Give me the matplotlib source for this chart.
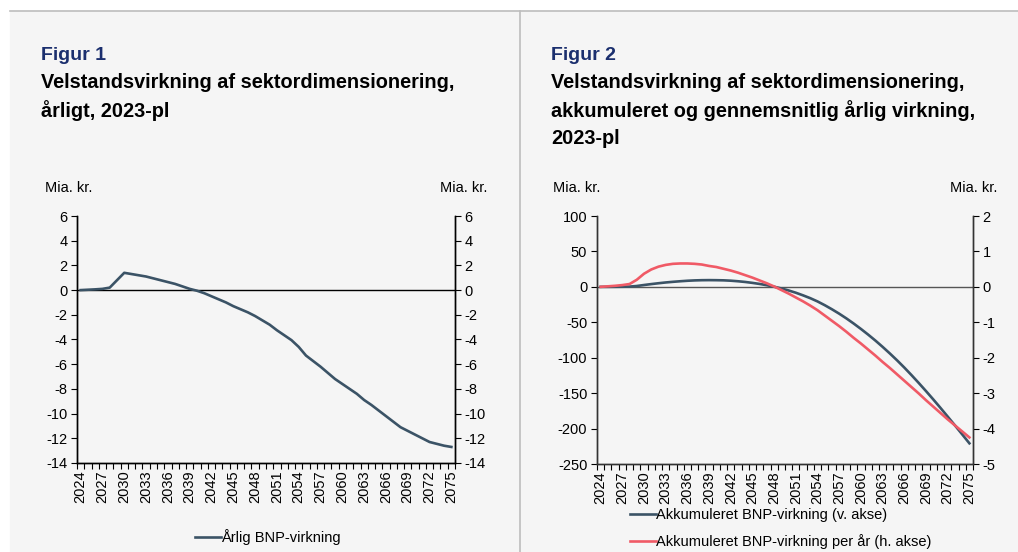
import numpy as np
import matplotlib
matplotlib.use('Agg')
import matplotlib.pyplot as plt
from matplotlib.patches import Rectangle
from matplotlib.lines import Line2D
from matplotlib.ticker import FixedLocator

plt.rcParams['font.family'] = ['Liberation Sans', 'DejaVu Sans']
plt.rcParams['axes.unicode_minus'] = False

# data
years = list(range(2024, 2076))
aarlig = [0.0, 0.03, 0.06, 0.1, 0.2, 0.8, 1.4, 1.3, 1.2, 1.1,
          0.95, 0.8, 0.65, 0.5, 0.3, 0.1, -0.05, -0.25, -0.5, -0.75,
          -1.0, -1.3, -1.55, -1.8, -2.1, -2.45, -2.8, -3.25, -3.65, -4.05,
          -4.6, -5.3, -5.75, -6.2, -6.7, -7.2, -7.6, -8.0, -8.4, -8.9,
          -9.3, -9.75, -10.2, -10.65, -11.1, -11.4, -11.7, -12.0, -12.3, -12.45,
          -12.6, -12.7]
akkum = [0.0, 0.03, 0.09, 0.19, 0.39, 1.2, 2.6, 3.9, 5.1, 6.2,
         7.1, 7.9, 8.6, 9.1, 9.4, 9.5, 9.4, 9.2, 8.7, 7.9,
         6.9, 5.6, 4.1, 2.3, 0.2, -2.3, -5.1, -8.3, -12.0, -16.0,
         -20.6, -25.9, -31.7, -37.9, -44.6, -51.8, -59.4, -67.4, -75.8, -84.7,
         -94.0, -103.7, -113.9, -124.6, -135.7, -147.1, -158.8, -170.8, -183.1, -195.5,
         -208.1, -220.8]
per_aar = [0.0, 0.015, 0.03, 0.05, 0.08, 0.2, 0.37, 0.49, 0.57, 0.62,
           0.65, 0.66, 0.66, 0.65, 0.63, 0.59, 0.56, 0.51, 0.46, 0.40,
           0.33, 0.26, 0.18, 0.10, 0.01, -0.09, -0.19, -0.30, -0.41, -0.53,
           -0.66, -0.81, -0.96, -1.11, -1.27, -1.44, -1.60, -1.77, -1.94, -2.12,
           -2.29, -2.47, -2.65, -2.83, -3.01, -3.20, -3.38, -3.56, -3.74, -3.91,
           -4.08, -4.25]
label_years = list(range(2024, 2076, 3))

navy = '#1b2f6e'
dark = '#3b5366'
red = '#f05a66'
bg = '#f5f5f5'
fs = 10.5

fig = plt.figure(figsize=(10.18, 5.52), dpi=100, facecolor='white')
W, H = 1018.0, 552.0

# panel backgrounds and separators
fig.patches.append(Rectangle((10 / W, 0), 1 - 10 / W, 1 - 11 / H,
                             transform=fig.transFigure, color=bg, zorder=-10))
fig.lines.append(Line2D([10 / W, 1], [1 - 11 / H, 1 - 11 / H],
                        transform=fig.transFigure, color='#bdbdbd', lw=1.2))
fig.lines.append(Line2D([520 / W, 520 / W], [0, 1 - 11 / H],
                        transform=fig.transFigure, color='#bdbdbd', lw=1.2))


def style_axes(ax, ax2, spine_col):
    for a in (ax, ax2):
        a.set_facecolor('none')
        a.spines['top'].set_visible(False)
        for s in ('left', 'right', 'bottom'):
            a.spines[s].set_color(spine_col)
            a.spines[s].set_linewidth(1.0)
    ax.set_xlim(2023.5, 2075.5)
    ax.set_xticks(label_years)
    ax.set_xticklabels([str(y) for y in label_years], rotation=90)
    ax.xaxis.set_minor_locator(FixedLocator(np.arange(2023.5, 2076, 1)))
    ax.tick_params(axis='x', which='major', length=0, pad=5, labelsize=fs)
    ax.tick_params(axis='x', which='minor', length=4, direction='out', width=0.8)
    ax.tick_params(axis='y', length=4, direction='out', labelsize=fs, pad=3, width=0.8)
    ax2.tick_params(axis='y', length=4, direction='out', labelsize=fs, pad=3, width=0.8)


def header(x, fig_no, lines):
    fig.text(x / W, 1 - 55 / H, fig_no, color=navy, fontsize=14, fontweight='bold',
             va='center', ha='left')
    for i, t in enumerate(lines):
        fig.text(x / W, 1 - (83 + 28 * i) / H, t, color='black', fontsize=14.3,
                 fontweight='bold', va='center', ha='left')


# Figur 1
ax1 = fig.add_axes([77 / W, 1 - 463 / H, (455 - 77) / W, (463 - 216) / H])
ax1b = ax1.twinx()
ax1.axhline(0, color='black', lw=1.0, zorder=1)
ax1.plot(years, aarlig, color=dark, lw=1.9, zorder=3)
ax1.set_ylim(-14, 6)
ax1.set_yticks(np.arange(-14, 7, 2))
ax1b.set_ylim(-14, 6)
ax1b.set_yticks(np.arange(-14, 7, 2))
style_axes(ax1, ax1b, 'black')
fig.legend([Line2D([], [], color=dark, lw=1.9)], ['Årlig BNP-virkning'],
           loc='center left', bbox_to_anchor=(195 / W, 1 - 537 / H),
           frameon=False, fontsize=fs, handlelength=1.75, handletextpad=0.05,
           borderaxespad=0, borderpad=0)
header(41, 'Figur 1', ['Velstandsvirkning af sektordimensionering,',
                       'årligt, 2023-pl'])
fig.text(45 / W, 1 - 188 / H, 'Mia. kr.', fontsize=fs, va='center', ha='left')
fig.text(487 / W, 1 - 188 / H, 'Mia. kr.', fontsize=fs, va='center', ha='right')

# Figur 2
ax2 = fig.add_axes([597 / W, 1 - 464 / H, (973 - 597) / W, (464 - 216) / H])
ax2b = ax2.twinx()
ax2.axhline(0, color='#555555', lw=1.0, zorder=1)
l1, = ax2.plot(years, akkum, color=dark, lw=1.9, zorder=3)
l2, = ax2b.plot(years, per_aar, color=red, lw=1.9, zorder=3)
ax2.set_ylim(-250, 100)
ax2.set_yticks(np.arange(-250, 101, 50))
ax2b.set_ylim(-5, 2)
ax2b.set_yticks(np.arange(-5, 3, 1))
style_axes(ax2, ax2b, '#333333')
fig.legend([l1, l2], ['Akkumuleret BNP-virkning (v. akse)',
                      'Akkumuleret BNP-virkning per år (h. akse)'],
           loc='center left', bbox_to_anchor=(630 / W, 1 - 528.5 / H),
           frameon=False, fontsize=fs, handlelength=1.75, handletextpad=0.05,
           labelspacing=0.85, borderaxespad=0, borderpad=0)
header(551, 'Figur 2', ['Velstandsvirkning af sektordimensionering,',
                        'akkumuleret og gennemsnitlig årlig virkning,',
                        '2023-pl'])
fig.text(553 / W, 1 - 188 / H, 'Mia. kr.', fontsize=fs, va='center', ha='left')
fig.text(997 / W, 1 - 188 / H, 'Mia. kr.', fontsize=fs, va='center', ha='right')

fig.savefig('out.png', dpi=100, facecolor='white')
plt.close(fig)
